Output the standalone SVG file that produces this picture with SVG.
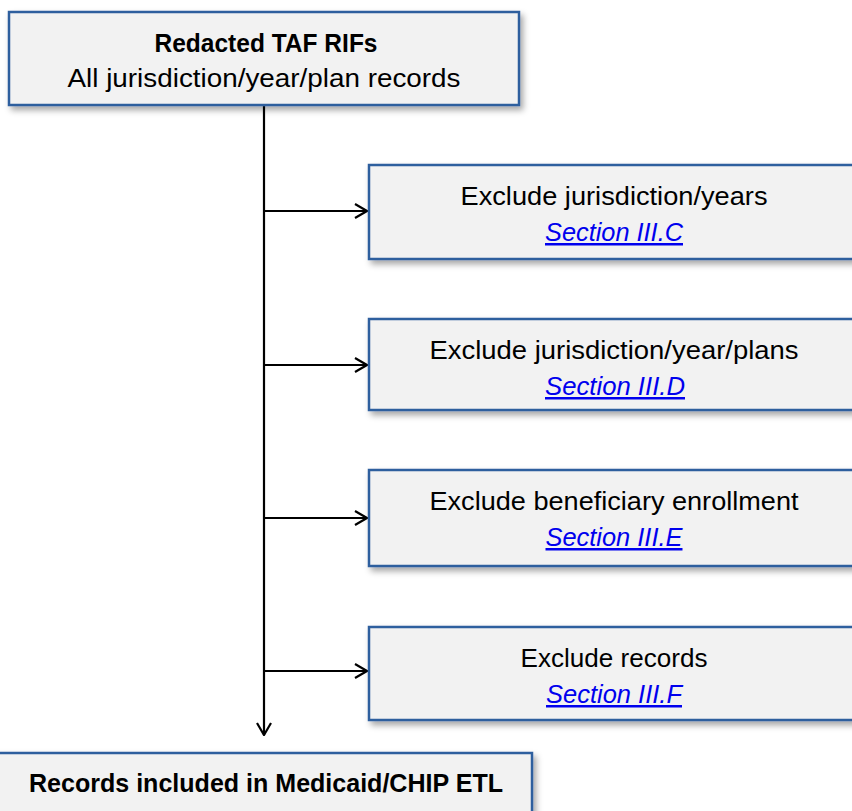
<svg xmlns="http://www.w3.org/2000/svg" width="852" height="811" viewBox="0 0 852 811">
<defs>
<style>
.box{fill:#F2F2F2;stroke:#2E5E9E;stroke-width:2.5;filter:url(#sh)}
.t{font-family:"Liberation Sans",Arial,sans-serif;font-size:25px;fill:#000;text-anchor:middle}
.b{font-weight:bold}
.lk{fill:#0000EE;font-style:italic;text-decoration:underline}
.ln{stroke:#000;stroke-width:2.2;fill:none}
</style>
<filter id="sh" x="-10%" y="-10%" width="130%" height="140%">
<feDropShadow dx="3" dy="4" stdDeviation="3" flood-color="#000" flood-opacity="0.35"/>
</filter>
<marker id="ah" markerWidth="14" markerHeight="16" refX="13" refY="8" orient="auto" markerUnits="userSpaceOnUse">
<path d="M1,1 L13,8 L1,15" fill="none" stroke="#000" stroke-width="2.2"/>
</marker>
</defs>
<g id="connectors">
<path class="ln" d="M264,105 V735" marker-end="url(#ah)"/>
<path class="ln" d="M264,211 H367" marker-end="url(#ah)"/>
<path class="ln" d="M264,365 H367" marker-end="url(#ah)"/>
<path class="ln" d="M264,518 H367" marker-end="url(#ah)"/>
<path class="ln" d="M264,671 H367" marker-end="url(#ah)"/>
</g>
<g id="top">
<rect class="box" x="9" y="12" width="510" height="93"/>
<text class="t b" x="266" y="52" textLength="223" lengthAdjust="spacingAndGlyphs">Redacted TAF RIFs</text>
<text class="t" x="264" y="87" textLength="393" lengthAdjust="spacingAndGlyphs">All jurisdiction/year/plan records</text>
</g>
<g id="n1">
<rect class="box" x="369" y="165" width="490" height="94"/>
<text class="t" x="614" y="205" textLength="307" lengthAdjust="spacingAndGlyphs">Exclude jurisdiction/years</text>
<text class="t lk" x="614" y="241" textLength="138" lengthAdjust="spacingAndGlyphs">Section III.C</text>
</g>
<g id="n2">
<rect class="box" x="369" y="319" width="490" height="91"/>
<text class="t" x="614" y="359" textLength="369" lengthAdjust="spacingAndGlyphs">Exclude jurisdiction/year/plans</text>
<text class="t lk" x="615" y="395" textLength="140" lengthAdjust="spacingAndGlyphs">Section III.D</text>
</g>
<g id="n3">
<rect class="box" x="369" y="470" width="490" height="96"/>
<text class="t" x="614" y="510" textLength="369" lengthAdjust="spacingAndGlyphs">Exclude beneficiary enrollment</text>
<text class="t lk" x="614" y="546" textLength="137" lengthAdjust="spacingAndGlyphs">Section III.E</text>
</g>
<g id="n4">
<rect class="box" x="369" y="627" width="490" height="93"/>
<text class="t" x="614" y="667" textLength="187" lengthAdjust="spacingAndGlyphs">Exclude records</text>
<text class="t lk" x="614" y="703" textLength="136" lengthAdjust="spacingAndGlyphs">Section III.F</text>
</g>
<g id="bottom">
<rect class="box" x="-5" y="753" width="537" height="70"/>
<text class="t b" x="266" y="792" textLength="474" lengthAdjust="spacingAndGlyphs">Records included in Medicaid/CHIP ETL</text>
</g>
</svg>
